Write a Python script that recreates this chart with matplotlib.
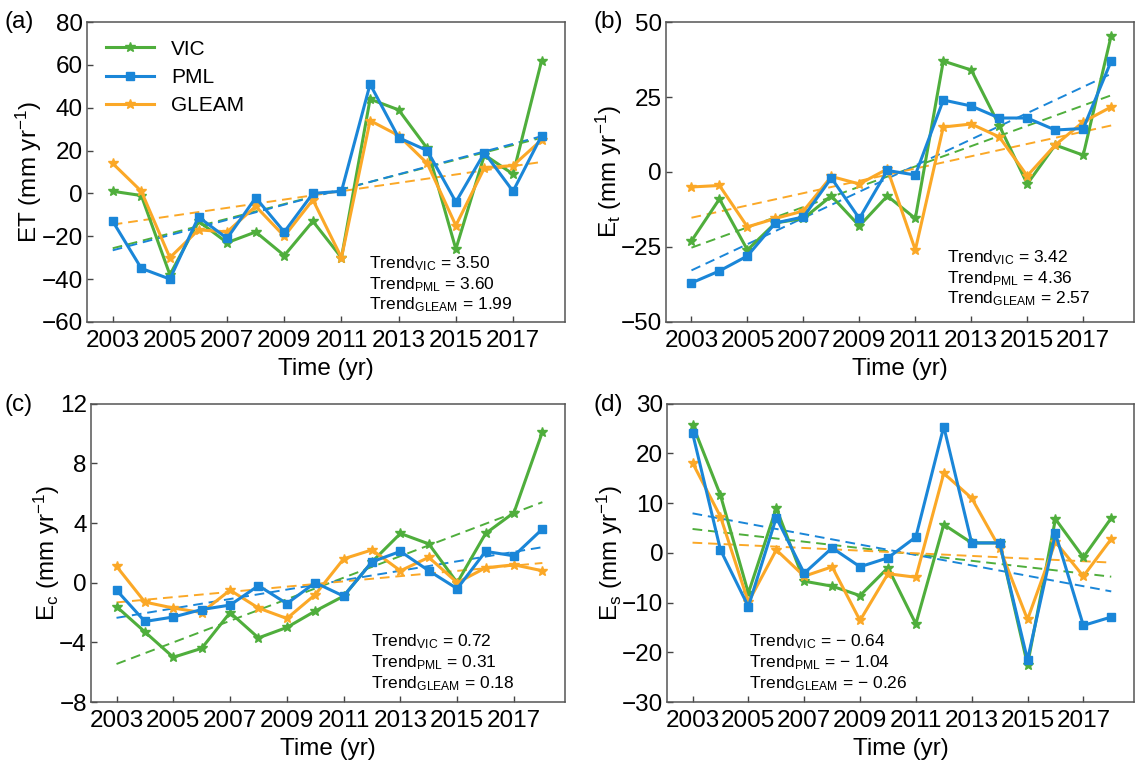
import numpy as np
import matplotlib
matplotlib.use("Agg")
import matplotlib.pyplot as plt

plt.rcParams['font.family'] = ['Liberation Sans', 'DejaVu Sans']
plt.rcParams['mathtext.default'] = 'regular'

years = list(range(2003, 2019))

# (a) ET
et_vic = [1, -1, -38, -13, -23, -18, -29, -13, -30, 44, 39, 21, -26, 18, 9, 62]
et_pml = [-13, -35, -40, -11, -21, -2, -18, 0, 1, 51, 26, 20, -4, 19, 1, 27]
et_gleam = [14, 1, -30, -17, -18, -6, -20, -3, -30, 34, 27, 14, -15, 12, 13, 25]

# (b) Et
etr_vic = [-23, -9, -26, -17, -15.5, -8, -18, -8, -15.5, 37, 34, 15.5, -4, 9, 5.6, 45.5]
etr_pml = [-37, -33, -28, -17, -15, -2, -15.5, 0.5, -1, 24, 22, 18, 18, 14, 14.5, 37]
etr_gleam = [-5, -4.5, -18.3, -15.5, -13, -1.5, -4, 1, -26, 15, 16, 11.7, -1.3, 9, 16.7, 21.7]

# (c) Ec
ec_vic = [-1.6, -3.3, -5.0, -4.4, -2.0, -3.7, -3.0, -1.9, -0.9, 1.4, 3.3, 2.6, 0.0, 3.3, 4.7, 10.1]
ec_pml = [-0.5, -2.6, -2.3, -1.8, -1.5, -0.2, -1.4, 0.0, -0.9, 1.4, 2.1, 0.8, -0.4, 2.1, 1.8, 3.6]
ec_gleam = [1.1, -1.3, -1.7, -2.0, -0.5, -1.7, -2.4, -0.8, 1.6, 2.2, 0.8, 1.7, 0.0, 1.0, 1.2, 0.8]

# (d) Es
es_vic = [25.8, 11.6, -8.1, 9.0, -5.7, -6.7, -8.6, -3.0, -14.3, 5.7, 2.0, 2.0, -22.5, 6.8, -0.9, 7.0]
es_pml = [24.1, 0.6, -10.8, 7.1, -4.1, 1.0, -2.8, -1.0, 3.2, 25.4, 2.0, 2.0, -21.5, 3.9, -14.6, -12.9]
es_gleam = [18.1, 7.3, -9.9, 0.6, -4.7, -2.8, -13.6, -4.2, -4.9, 16.0, 11.0, 1.0, -13.4, 2.2, -4.7, 2.8]

series_names = ['VIC', 'PML', 'GLEAM']
trend_a = ['3.50', '3.60', '1.99']
trend_b = ['3.42', '4.36', '2.57']
trend_c = ['0.72', '0.31', '0.18']
trend_d = ['\u2212 0.64', '\u2212 1.04', '\u2212 0.26']

ylabels = ['ET (mm yr$^{-1}$)', 'E$_t$ (mm yr$^{-1}$)', 'E$_c$ (mm yr$^{-1}$)', 'E$_s$ (mm yr$^{-1}$)']
panel_tags = ['(a)', '(b)', '(c)', '(d)']
yticks_all = [list(range(-60, 81, 20)), [-50, -25, 0, 25, 50], [-8, -4, 0, 4, 8, 12], list(range(-30, 31, 10))]

colors = {'VIC': '#4fae3c', 'PML': '#1a86d8', 'GLEAM': '#fba827'}
markers = {'VIC': '*', 'PML': 's', 'GLEAM': '*'}
msizes = {'VIC': 7.5, 'PML': 6, 'GLEAM': 7.5}

fig = plt.figure(figsize=(11.37, 7.61), dpi=100)

positions = [
    [0.0765, 0.577, 0.420, 0.394],
    [0.586, 0.577, 0.411, 0.394],
    [0.080, 0.0775, 0.417, 0.392],
    [0.587, 0.0775, 0.410, 0.392],
]
tag_pos = [(0.004, 0.971), (0.522, 0.971), (0.004, 0.468), (0.522, 0.468)]
text_x = [0.59, 0.60, 0.59, 0.175]
text_y = [0.025, 0.045, 0.03, 0.03]
datasets = [
    (et_vic, et_pml, et_gleam),
    (etr_vic, etr_pml, etr_gleam),
    (ec_vic, ec_pml, ec_gleam),
    (es_vic, es_pml, es_gleam),
]
trends = [trend_a, trend_b, trend_c, trend_d]

x = np.array(years)
for i in range(4):
    ax = fig.add_axes(positions[i])
    yt = yticks_all[i]
    for name, vals in zip(series_names, datasets[i]):
        ax.plot(x, vals, color=colors[name], marker=markers[name], ms=msizes[name],
                lw=2.2, label=name, zorder=3 if name != 'PML' else 4)
    for name, vals in zip(series_names, datasets[i]):
        p = np.polyfit(x, np.array(vals, dtype=float), 1)
        ax.plot(x, np.polyval(p, x), color=colors[name], ls=(0, (5, 3)), lw=1.4, zorder=2)
    ax.set_xlim(2002.1, 2018.8)
    ax.set_ylim(yt[0], yt[-1])
    ax.set_yticks(yt)
    ax.set_xticks(years[::2])
    ax.tick_params(direction='in', labelsize=17.5, length=4, width=1, color='#444444')
    ax.tick_params(axis='x', pad=6)
    ax.tick_params(axis='y', pad=3)
    for s in ax.spines.values():
        s.set_color('#555555')
        s.set_linewidth(1.1)
    ax.set_xlabel('Time (yr)', fontsize=17.5, labelpad=4)
    ax.set_ylabel(ylabels[i], fontsize=17.5, labelpad=-2)
    txt = '\n'.join(['Trend$_{%s}$ = %s' % (n, v) for n, v in zip(series_names, trends[i])])
    ax.text(text_x[i], text_y[i], txt, transform=ax.transAxes, fontsize=12.5, va='bottom',
            ha='left', linespacing=1.15)
    fig.text(tag_pos[i][0], tag_pos[i][1], panel_tags[i], fontsize=17.5, va='center', ha='left')
    if i == 0:
        ax.legend(loc='upper left', frameon=False, fontsize=15, handlelength=2.3,
                  handletextpad=0.8, borderaxespad=0.3, labelspacing=0.45,
                  bbox_to_anchor=(0.01, 0.99))

fig.savefig('out.png', dpi=100)
